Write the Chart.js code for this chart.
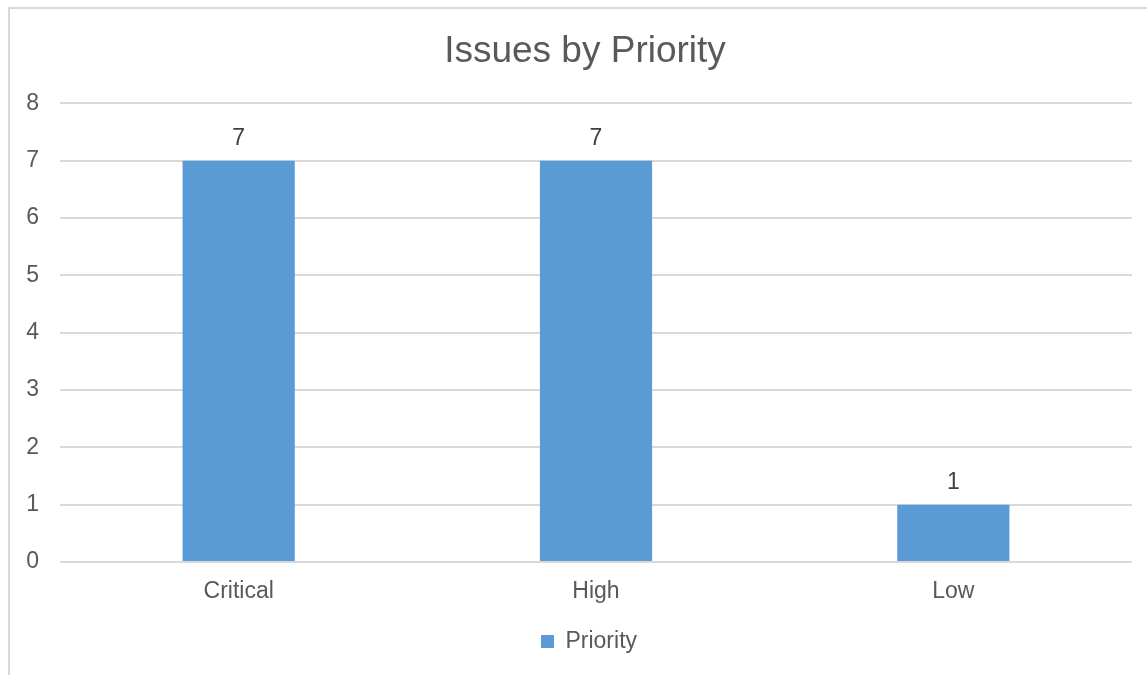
<!DOCTYPE html>
<html>
<head>
<meta charset="utf-8">
<script src="https://cdn.jsdelivr.net/npm/chart.js@4"></script>
<style>
  body { margin: 0; background: #fff; }
  #frame { position: absolute; left: 8px; top: 7px; width: 1200px; height: 700px; border: 2px solid #d9d9d9; }
  #wrap { position: absolute; left: 0; top: 0; width: 1147px; height: 675px; }
</style>
</head>
<body>
<div id="frame"></div>
<div id="wrap"><canvas id="barChart"></canvas></div>
<script>
const categories = ['Critical', 'High', 'Low'];
const priorityValues = [7, 7, 1];
const yTicks = [0, 1, 2, 3, 4, 5, 6, 7, 8];

const textColor = '#595959';
const fontFamily = '"Liberation Sans", Arial, sans-serif';

// value labels above each bar
const valueLabels = {
  id: 'valueLabels',
  afterDatasetsDraw(chart) {
    const ctx = chart.ctx;
    const meta = chart.getDatasetMeta(0);
    ctx.save();
    ctx.font = '23px ' + fontFamily;
    ctx.fillStyle = '#404040';
    ctx.textAlign = 'center';
    ctx.textBaseline = 'middle';
    meta.data.forEach((bar, i) => {
      ctx.fillText(priorityValues[i], bar.x, bar.y - 22);
    });
    ctx.restore();
  }
};

// the original frame is wider than the window, so title and legend sit right of centre
const shiftBlocks = {
  id: 'shiftBlocks',
  afterLayout(chart) {
    if (chart.titleBlock) { chart.titleBlock.left += 19; chart.titleBlock.right += 19; }
    if (chart.legend) { chart.legend.left += 23; chart.legend.right += 23; }
  }
};

const ctx = document.getElementById('barChart').getContext('2d');
const chart = new Chart(ctx, {
  type: 'bar',
  data: {
    labels: categories,
    datasets: [{
      label: 'Priority',
      data: priorityValues,
      backgroundColor: '#5b9bd5',
      borderWidth: 0,
      categoryPercentage: 1,
      barPercentage: 0.314
    }]
  },
  options: {
    responsive: true,
    maintainAspectRatio: false,
    animation: false,
    layout: { padding: { left: 0, right: 15, top: 0, bottom: 12 } },
    plugins: {
      title: {
        display: true,
        text: 'Issues by Priority',
        color: textColor,
        font: { family: fontFamily, size: 37, weight: 'normal' },
        padding: { top: 30, bottom: 29 }
      },
      legend: {
        position: 'bottom',
        labels: {
          color: textColor,
          font: { family: fontFamily, size: 23 },
          boxWidth: 13,
          boxHeight: 13,
          padding: 10
        }
      },
      tooltip: { enabled: false }
    },
    scales: {
      x: {
        grid: { display: false, drawTicks: false },
        border: { display: false },
        ticks: {
          color: textColor,
          font: { family: fontFamily, size: 23 },
          padding: 16
        },
        afterFit(scale) { scale.height = 58; }
      },
      y: {
        min: 0,
        max: 8,
        afterBuildTicks(scale) { scale.ticks = yTicks.map(v => ({ value: v })); },
        grid: { color: '#d9d9d9', lineWidth: 2, drawTicks: false },
        border: { display: false },
        ticks: {
          color: textColor,
          font: { family: fontFamily, size: 23 },
          padding: 21
        },
        afterFit(scale) { scale.width = 60; }
      }
    }
  },
  plugins: [valueLabels, shiftBlocks]
});
</script>
</body>
</html>
